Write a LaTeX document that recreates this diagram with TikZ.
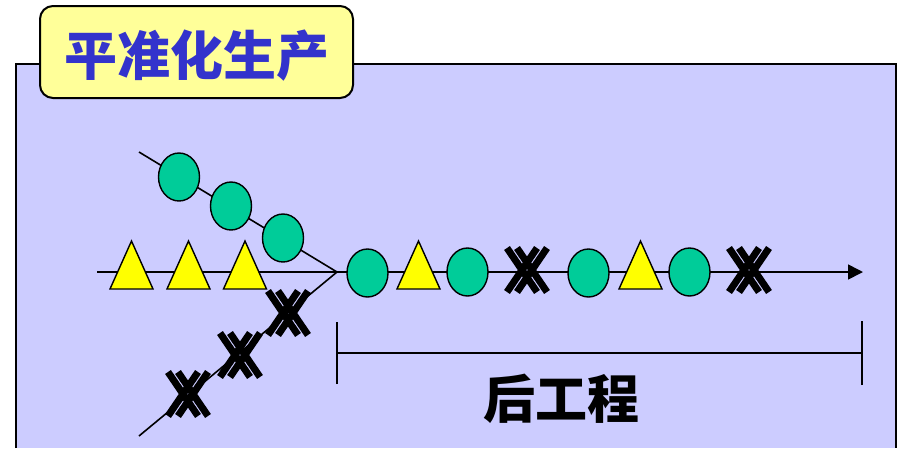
\documentclass[tikz,border=0pt]{standalone}
\usepackage{fontspec}
\newfontfamily\cjk{Noto Sans CJK SC}
\usetikzlibrary{shapes.geometric,arrows.meta}
\definecolor{bgblue}{HTML}{CCCCFF}
\definecolor{lblyellow}{HTML}{FFFF99}
\definecolor{ttlblue}{HTML}{3333CC}
\definecolor{ballgreen}{HTML}{00CC99}
\definecolor{triyellow}{HTML}{FFFF00}
\tikzset{
  ball/.style={ellipse, draw=black, line width=1.4pt, fill=ballgreen, minimum width=41pt, minimum height=48pt, inner sep=0pt},
  tribox/.style={draw=black, line width=1.4pt, fill=triyellow, line join=miter},
  xstroke/.style={line width=7pt, black},
  flow/.style={line width=1.6pt, black},
}
\newcommand\mytri[3]{% name, x, y (base centre)
  \coordinate (#1) at (#2,#3);
  \draw[tribox] ([xshift=-21.5pt]#1) -- ([yshift=48pt]#1) -- ([xshift=21.5pt]#1) -- cycle;}
\newcommand\myx[3]{% name, x, y
  \coordinate (#1) at (#2,#3);
  \foreach \d in {-5,5}{
    \draw[xstroke] ([shift={(\d-15,-22)}]#1) -- ([shift={(\d+15,22)}]#1);
    \draw[xstroke] ([shift={(\d-15,22)}]#1) -- ([shift={(\d+15,-22)}]#1);
  }}
\begin{document}
\begin{tikzpicture}[x=1pt,y=-1pt]
\useasboundingbox (0,0) rectangle (902,448);
% background panel
\fill[bgblue] (16,64) rectangle (896,448);
\draw[line width=2.2pt] (16,448) -- (16,64) -- (896,64) -- (896,448);
% label
\node[draw=black, line width=2pt, fill=lblyellow, rounded corners=13pt, minimum width=313pt, minimum height=92pt, inner sep=0pt] (title) at (196.5,52) {};
\node[text=ttlblue, font=\cjk\bfseries\fontsize{53}{53}\selectfont] (titletext) at (197,56) {平准化生产};
% coordinates
\coordinate (upstart) at (139,152);
\coordinate (lowstart) at (139,436);
\coordinate (mainstart) at (97,272);
\coordinate (merge) at (337,272);
\coordinate (mainend) at (863,272);
% flow lines
\draw[flow] (upstart) -- (merge);
\draw[flow] (lowstart) -- (merge);
\draw[flow, -{Triangle[length=15pt,width=15pt]}] (mainstart) -- (mainend);
% upper balls
\node[ball] (u1) at (179,177) {};
\node[ball] (u2) at (231,206) {};
\node[ball] (u3) at (283,238) {};
% left triangles
\mytri{t1}{131.5}{289}
\mytri{t2}{188.5}{289}
\mytri{t3}{245}{289}
% lower x marks
\myx{x1}{188}{394}
\myx{x2}{240}{355}
\myx{x3}{288}{313}
% main line items
\node[ball] (m1) at (367.5,273) {};
\mytri{m2}{418.5}{289}
\node[ball] (m3) at (467.5,272) {};
\myx{m4}{527}{270}
\node[ball] (m5) at (588.5,273) {};
\mytri{m6}{640.5}{289}
\node[ball] (m7) at (689.5,272) {};
\myx{m8}{749}{270}
% bracket
\coordinate (bl) at (337,353);
\coordinate (br) at (862,353);
\draw[line width=1.6pt] (bl) -- (br);
\draw[line width=1.6pt] ([yshift=-31pt]bl) -- ([yshift=31pt]bl);
\draw[line width=1.6pt] ([yshift=-32pt]br) -- ([yshift=32pt]br);
\node[font=\cjk\bfseries\fontsize{52}{52}\selectfont] (hou) at (561,399) {后工程};
\end{tikzpicture}
\end{document}
